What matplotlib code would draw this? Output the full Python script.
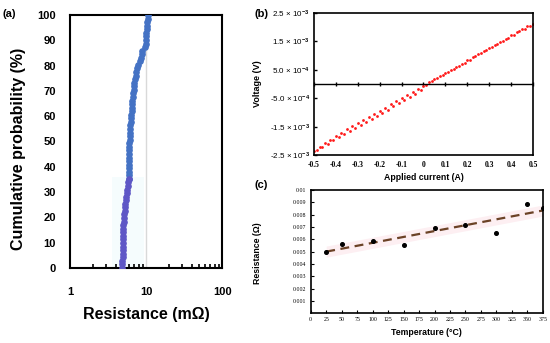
import numpy as np
import matplotlib.pyplot as plt
from matplotlib.patches import Rectangle

# (a) resistance distribution, mOhm (sorted)
resistance_a = [
    4.88, 4.90, 4.91, 4.92, 4.93, 4.94, 4.95, 4.96, 4.97, 4.98, 4.99, 5.00,
    5.03, 5.08, 5.13, 5.18, 5.24, 5.30, 5.37, 5.45, 5.52, 5.60, 5.68, 5.76,
    5.84, 5.90, 5.93, 5.95, 5.96, 5.97, 5.98, 5.99, 6.00, 6.01, 6.03, 6.05,
    6.08, 6.11, 6.14, 6.18, 6.23, 6.28, 6.34, 6.40, 6.46, 6.52, 6.58, 6.64,
    6.70, 6.77, 6.85, 6.94, 7.04, 7.15, 7.28, 7.45, 7.65, 7.90, 8.30, 8.60,
    8.80, 8.95, 9.60, 9.90, 10.00, 10.05, 10.10, 10.15, 10.25, 10.35, 10.50, 10.75,
]
n_low = 26  # first points drawn in the purple tone

# (b) I-V sweep: current (A), voltage (mV) for the two rows of dots
current_b = [
    -0.500, -0.475, -0.450, -0.425, -0.400, -0.375, -0.350, -0.325, -0.300, -0.275,
    -0.250, -0.225, -0.200, -0.175, -0.150, -0.125, -0.100, -0.075, -0.050, -0.025,
    0.000, 0.025, 0.050, 0.075, 0.100, 0.125, 0.150, 0.175, 0.200, 0.225,
    0.250, 0.275, 0.300, 0.325, 0.350, 0.375, 0.400, 0.425, 0.450, 0.475, 0.500,
]
current_b2 = [
    -0.4875, -0.4625, -0.4375, -0.4125, -0.3875, -0.3625, -0.3375, -0.3125, -0.2875, -0.2625,
    -0.2375, -0.2125, -0.1875, -0.1625, -0.1375, -0.1125, -0.0875, -0.0625, -0.0375, -0.0125,
    0.0125, 0.0375, 0.0625, 0.0875, 0.1125, 0.1375, 0.1625, 0.1875, 0.2125, 0.2375,
    0.2625, 0.2875, 0.3125, 0.3375, 0.3625, 0.3875, 0.4125, 0.4375, 0.4625, 0.4875,
]
voltage_up = [
    -2.36, -2.21, -2.09, -1.96, -1.82, -1.71, -1.60, -1.49, -1.38, -1.27,
    -1.16, -1.05, -0.95, -0.83, -0.72, -0.61, -0.50, -0.39, -0.28, -0.17,
    -0.06, 0.06, 0.17, 0.28, 0.39, 0.50, 0.61, 0.72, 0.83, 0.94,
    1.05, 1.16, 1.27, 1.38, 1.49, 1.60, 1.71, 1.82, 1.93, 2.03, 2.12,
]
voltage_down = [
    -2.33, -2.22, -2.10, -1.98, -1.87, -1.77, -1.66, -1.55, -1.45, -1.34,
    -1.24, -1.13, -1.02, -0.90, -0.79, -0.68, -0.57, -0.46, -0.35, -0.20,
    -0.02, 0.09, 0.20, 0.31, 0.42, 0.53, 0.64, 0.75, 0.86, 0.97,
    1.08, 1.19, 1.30, 1.41, 1.52, 1.63, 1.74, 1.85, 1.95, 2.05,
]
b_yticks = [2.5e-3, 1.5e-3, 5e-4, -5e-4, -1.5e-3, -2.5e-3]
b_ylabels = [r"2.5 × 10$^{-3}$", r"1.5 × 10$^{-3}$", r"5.0 × 10$^{-4}$",
             r"-5.0 × 10$^{-4}$", r"-1.5 × 10$^{-3}$", r"-2.5 × 10$^{-3}$"]

# (c) resistance vs temperature
temperature_c = [25, 50, 100, 150, 200, 250, 300, 350, 375]
resistance_c = [0.0050, 0.0056, 0.0059, 0.0055, 0.0069, 0.0072, 0.0065, 0.0089, 0.0085]

plt.rcParams["font.family"] = ["Liberation Sans", "DejaVu Sans"]
plt.rcParams["mathtext.fontset"] = "custom"
plt.rcParams["mathtext.rm"] = "Liberation Sans:bold"
plt.rcParams["mathtext.it"] = "Liberation Sans:bold"
plt.rcParams["mathtext.bf"] = "Liberation Sans:bold"

fig = plt.figure(figsize=(5.5, 3.43), dpi=100)

# ---------------- (a)
ax1 = fig.add_axes([0.127, 0.219, 0.277, 0.737])
prob = np.arange(len(resistance_a)) / (len(resistance_a) - 1) * 100
ax1.add_patch(Rectangle((3.6, 0), 5.7, 36, color="#f5fcfd", zorder=0, lw=0))
ax1.axvline(10, color="#d9d9d9", lw=1, zorder=1)
ax1.plot(resistance_a[n_low - 1:], prob[n_low - 1:], "-o", color="#4472C4",
         ms=3.8, lw=1.2, zorder=3)
ax1.plot(resistance_a[:n_low], prob[:n_low], "-o", color="#5e57c6",
         ms=3.8, lw=1.2, zorder=4)
ax1.set_xscale("log")
ax1.set_xlim(1, 100)
ax1.set_ylim(0, 100)
ax1.set_yticks(range(0, 101, 10))
ax1.set_xticks([1, 10, 100])
ax1.set_xticklabels(["1", "10", "100"])
ax1.tick_params(axis="y", length=0, pad=10, labelsize=8)
ax1.tick_params(axis="x", which="major", length=0, pad=14, labelsize=8)
ax1.tick_params(axis="x", which="minor", direction="in", length=3, width=1.2)
for lab in ax1.get_xticklabels() + ax1.get_yticklabels():
    lab.set_fontweight("bold")
for s in ax1.spines.values():
    s.set_linewidth(1.5)
ax1.set_ylabel("Cumulative probability (%)", fontsize=11.5, fontweight="bold")
ax1.yaxis.set_label_coords(-0.29, 0.47)
ax1.set_xlabel("Resistance (mΩ)", fontsize=11.5, fontweight="bold")
ax1.xaxis.set_label_coords(0.5, -0.155)
fig.text(0.005, 0.958, "(a)", fontsize=8, fontweight="bold", va="center")

# ---------------- (b)
ax2 = fig.add_axes([0.571, 0.548, 0.398, 0.414])
ax2.plot(current_b, np.array(voltage_up) * 1e-3, "o", color="#ff1a1a", ms=2.0, mew=0)
ax2.plot(current_b2, np.array(voltage_down) * 1e-3, "o", color="#ff1a1a", ms=2.0, mew=0)
ax2.set_xlim(-0.5, 0.5)
ax2.set_ylim(-2.5e-3, 2.5e-3)
ax2.axhline(0, color="black", lw=1)
xt = [-0.5, -0.4, -0.3, -0.2, -0.1, 0, 0.1, 0.2, 0.3, 0.4, 0.5]
ax2.set_xticks(xt)
ax2.set_xticklabels(["-0.5", "-0.4", "-0.3", "-0.2", "-0.1", "0", "0.1", "0.2",
                     "0.3", "0.4", "0.5"], family="Liberation Serif",
                    fontweight="bold", fontsize=5.5)
ax2.tick_params(axis="x", length=0, pad=4)
sec = ax2.secondary_xaxis(0.5)
sec.set_xticks(xt)
sec.tick_params(axis="x", direction="inout", length=3, width=1, labelbottom=False,
                labeltop=False)
sec.spines["top"].set_visible(False)
sec.spines["bottom"].set_visible(False)
ax2.set_yticks(b_yticks)
ax2.set_yticklabels(b_ylabels, fontsize=5.8)
ax2.tick_params(axis="y", direction="in", length=2.5, width=1, pad=3)
for s in ax2.spines.values():
    s.set_linewidth(1.2)
ax2.set_ylabel("Voltage (V)", fontsize=6.5, fontweight="bold")
ax2.yaxis.set_label_coords(-0.24, 0.5)
ax2.set_xlabel("Applied current (A)", fontsize=6.3, fontweight="bold")
ax2.xaxis.set_label_coords(0.5, -0.13)
fig.text(0.462, 0.958, "(b)", fontsize=8, fontweight="bold", va="center")

# ---------------- (c)
ax3 = fig.add_axes([0.565, 0.087, 0.422, 0.359])
coef = np.polyfit(temperature_c, resistance_c, 1)
tfit = np.array([temperature_c[0], temperature_c[-1]])
rfit = np.polyval(coef, tfit)
ax3.fill_between(tfit, rfit - 0.00045, rfit + 0.00045, color="#fdeff2", lw=0, zorder=1)
ax3.plot(tfit, rfit, "--", color="#6b4226", lw=1.6, dashes=(4, 2.5), zorder=2)
ax3.plot(temperature_c, resistance_c, "o", color="black", ms=2.6, zorder=3)
ax3.set_xlim(0, 375)
ax3.set_ylim(0, 0.01)
ax3.set_xticks(range(0, 376, 25))
ax3.set_xticklabels([str(t) for t in range(0, 376, 25)], family="Liberation Serif",
                    fontsize=4.2)
yt = [0.001, 0.002, 0.003, 0.004, 0.005, 0.006, 0.007, 0.008, 0.009, 0.01]
ax3.set_yticks(yt)
ax3.set_yticklabels(["0.001", "0.002", "0.003", "0.004", "0.005", "0.006",
                     "0.007", "0.008", "0.009", "0.01"], family="Liberation Serif",
                    fontsize=4.2)
ax3.tick_params(direction="in", length=2, width=0.8, pad=3)
for s in ax3.spines.values():
    s.set_linewidth(1.2)
ax3.set_ylabel("Resistance (Ω)", fontsize=6.3, fontweight="bold")
ax3.yaxis.set_label_coords(-0.21, 0.49)
ax3.set_xlabel("Temperature (°C)", fontsize=6.3, fontweight="bold")
ax3.xaxis.set_label_coords(0.5, -0.12)
fig.text(0.462, 0.46, "(c)", fontsize=8, fontweight="bold", va="center")

fig.savefig("out.png", dpi=100)
